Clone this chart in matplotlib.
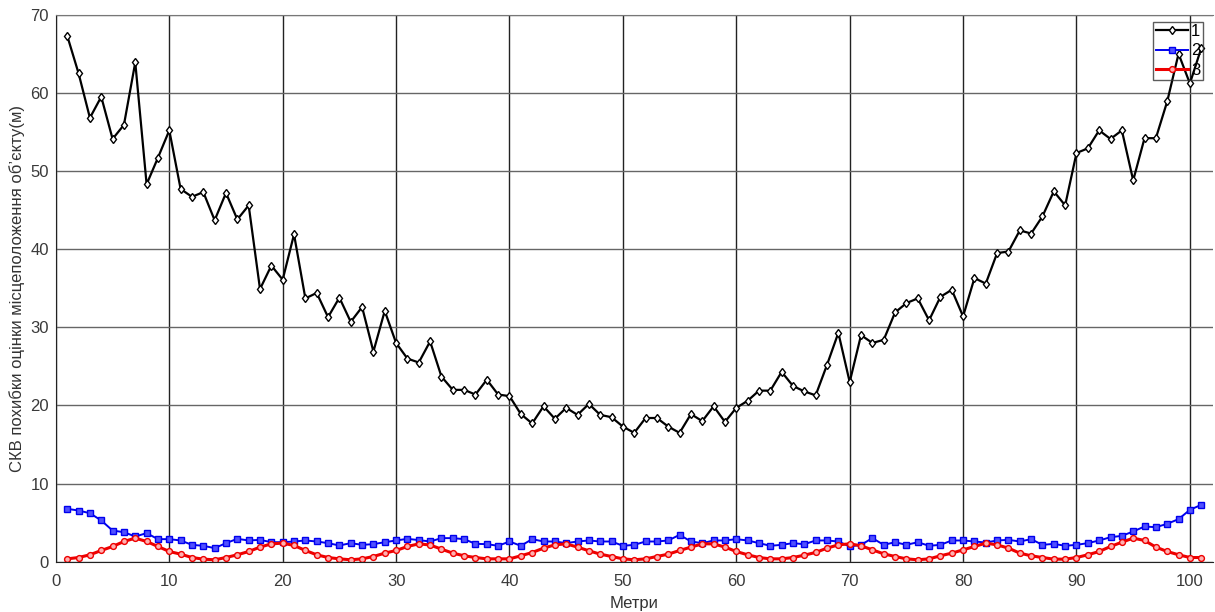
import matplotlib.pyplot as plt
import numpy as np

plt.rcParams['font.family'] = ['Liberation Sans', 'DejaVu Sans']

x = np.arange(1, 102)

err_1 = [67.3, 62.5, 56.8, 59.5, 54.1, 55.9, 63.9, 48.3, 51.7, 55.2,
         47.7, 46.7, 47.3, 43.7, 47.2, 43.8, 45.6, 34.9, 37.9, 36.1,
         41.9, 33.7, 34.4, 31.3, 33.8, 30.7, 32.6, 26.9, 32.1, 28.0,
         26.0, 25.5, 28.2, 23.7, 22.0, 22.0, 21.4, 23.3, 21.4, 21.2,
         18.9, 17.7, 19.9, 18.3, 19.7, 18.8, 20.2, 18.8, 18.5, 17.3,
         16.5, 18.4, 18.4, 17.3, 16.5, 18.9, 18.0, 19.9, 17.9, 19.7,
         20.6, 21.9, 21.9, 24.3, 22.5, 21.8, 21.3, 25.2, 29.3, 23.0,
         29.0, 28.0, 28.4, 31.9, 33.1, 33.7, 30.9, 33.9, 34.8, 31.4,
         36.3, 35.6, 39.5, 39.7, 42.4, 42.0, 44.2, 47.4, 45.6, 52.3,
         52.9, 55.2, 54.1, 55.2, 48.8, 54.2, 54.2, 58.9, 65.0, 61.2,
         65.7]

err_2 = [6.78, 6.56, 6.22, 5.29, 4.0, 3.79, 3.24, 3.67, 2.9, 2.9,
         2.73, 2.17, 2.05, 1.75, 2.39, 2.94, 2.73, 2.81, 2.51, 2.51,
         2.6, 2.73, 2.6, 2.39, 2.09, 2.39, 2.17, 2.26, 2.51, 2.73,
         2.94, 2.78, 2.6, 3.03, 3.03, 2.9, 2.3, 2.26, 2.05, 2.6,
         2.05, 2.9, 2.6, 2.6, 2.39, 2.6, 2.73, 2.6, 2.6, 2.05,
         2.17, 2.6, 2.6, 2.73, 3.45, 2.6, 2.39, 2.73, 2.73, 2.9,
         2.73, 2.39, 2.05, 2.17, 2.39, 2.25, 2.73, 2.73, 2.6, 1.96,
         2.17, 3.03, 2.17, 2.51, 2.17, 2.51, 2.05, 2.17, 2.73, 2.73,
         2.6, 2.47, 2.73, 2.81, 2.6, 2.9, 2.17, 2.3, 2.05, 2.17,
         2.39, 2.73, 3.15, 3.32, 3.88, 4.52, 4.43, 4.86, 5.46, 6.65,
         7.29]

err_3 = [0.38, 0.55, 0.9, 1.45, 1.96, 2.6, 3.03, 2.6, 1.96, 1.32,
         0.98, 0.55, 0.34, 0.26, 0.55, 0.9, 1.32, 1.88, 2.3, 2.39,
         2.09, 1.45, 0.9, 0.55, 0.38, 0.26, 0.38, 0.68, 1.11, 1.45,
         1.96, 2.3, 2.15, 1.62, 1.11, 0.77, 0.55, 0.38, 0.38, 0.38,
         0.77, 1.19, 1.75, 2.17, 2.3, 1.88, 1.41, 0.98, 0.68, 0.38,
         0.26, 0.38, 0.68, 0.98, 1.45, 1.88, 2.3, 2.3, 1.88, 1.32,
         0.9, 0.55, 0.38, 0.38, 0.55, 0.85, 1.2, 1.75, 2.17, 2.3,
         2.05, 1.53, 1.02, 0.68, 0.38, 0.26, 0.38, 0.77, 1.11, 1.53,
         1.96, 2.39, 2.17, 1.75, 1.11, 0.77, 0.55, 0.34, 0.34, 0.55,
         0.9, 1.32, 1.96, 2.51, 3.03, 2.73, 1.88, 1.32, 0.9, 0.55,
         0.55]

fig = plt.figure(figsize=(12.15, 6.12), dpi=100)
ax = fig.add_axes([0.046, 0.082, 0.952, 0.894])

ax.plot(x, err_1, '-', color='black', lw=1.6, marker='d', ms=4.5,
        mfc='white', mec='black', mew=1.0, label='1')
ax.plot(x, err_2, '-', color='#0000ee', lw=1.4, marker='s', ms=3.8,
        mfc='#5050ff', mec='#0000ee', mew=1.0, label='2')
ax.plot(x, err_3, '-', color='#ee0000', lw=2.2, marker='o', ms=4.2,
        mfc='#ffb0b0', mec='#ee0000', mew=1.0, label='3')

ax.set_xlim(0, 102)
ax.set_ylim(0, 70)
ax.set_xticks(np.arange(0, 101, 10))
ax.set_yticks(np.arange(0, 71, 10))

ax.grid(True, axis='x', color='#222222', lw=1.0)
ax.grid(True, axis='y', color='#666666', lw=1.0)
ax.set_axisbelow(True)

ax.spines['top'].set_color('#777777')
ax.spines['right'].set_visible(False)
ax.spines['left'].set_color('#222222')
ax.spines['bottom'].set_color('#222222')

ax.tick_params(axis='both', length=0, labelsize=12, labelcolor='#3a3a3a')
ax.tick_params(axis='x', pad=9)
ax.tick_params(axis='y', pad=5)

ax.set_xlabel('Метри', fontsize=12, color='#333333', labelpad=5)
ax.set_ylabel('СКВ похибки оцінки місцеположення об’єкту(м)', fontsize=12,
              color='#333333', labelpad=4)

leg = ax.legend(loc='upper right', bbox_to_anchor=(0.993, 0.99), fontsize=12,
                frameon=True, fancybox=False, edgecolor='#333333',
                handlelength=1.9, handletextpad=0.2, borderpad=0.15,
                labelspacing=0.25, borderaxespad=0.1)
leg.get_frame().set_facecolor('none')
leg.get_frame().set_linewidth(1.0)

fig.savefig('out.png', dpi=100)
